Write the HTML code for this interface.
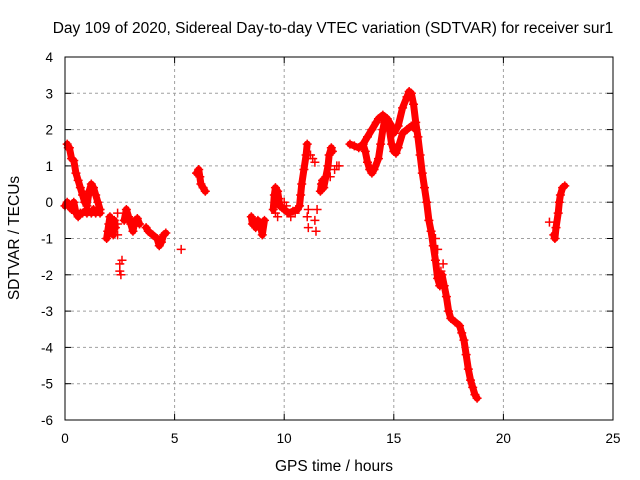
<!DOCTYPE html>
<html><head><meta charset="utf-8"><style>
body{margin:0;background:#fff}
svg{display:block;font-family:"Liberation Sans",sans-serif}
</style></head><body>
<svg id="c" width="640" height="480">
<text x="333" y="33" text-anchor="middle" font-size="15.5">Day 109 of 2020, Sidereal Day-to-day VTEC variation (SDTVAR) for receiver sur1</text>
<text x="334" y="471" text-anchor="middle" font-size="15.5">GPS time / hours</text>
<text transform="translate(19,238) rotate(-90)" text-anchor="middle" font-size="15.5">SDTVAR / TECUs</text>
<g id="grid"></g><g id="marks"></g>
<rect x="65" y="57" width="548" height="363" fill="none" stroke="#000" stroke-width="1"/>
</svg>
<script>
const xTicks=[0,5,10,15,20,25];
const yTicks=[4,3,2,1,0,-1,-2,-3,-4,-5,-6];
const segA1_t=[0.1,0.15,0.2,0.3,0.4,0.5,0.6,0.7,0.8,0.9,1.0,1.1,1.2,1.3,1.4,1.5,1.6];
const segA1_v=[1.6,1.5,1.5,1.2,1.15,0.8,0.6,0.4,0.2,0.0,-0.1,0.3,0.5,0.4,0.2,0.0,-0.2];
const segA2_t=[0.0,0.1,0.2,0.3,0.4,0.5,0.6,0.7,0.8,0.9,1.0,1.1,1.2,1.3,1.4,1.5,1.6];
const segA2_v=[-0.1,0.0,-0.1,-0.2,0.0,-0.3,-0.4,-0.3,-0.3,-0.25,-0.3,-0.25,-0.3,-0.2,-0.3,-0.25,-0.3];
const segB_t=[1.9,1.95,2.0,2.05,2.1,2.15,2.2,2.25,2.3];
const segB_v=[-1.0,-0.8,-0.6,-0.4,-0.5,-0.7,-0.9,-0.5,-0.7];
const segC_t=[2.4,2.4,2.4,2.5,2.5,2.55,2.6];
const segC_v=[-0.3,-0.6,-0.9,-1.7,-1.9,-2.0,-1.6];
const segD_t=[2.7,2.8,2.9,3.0,3.1,3.2,3.3,3.4];
const segD_v=[-0.5,-0.2,-0.4,-0.6,-0.8,-0.5,-0.45,-0.6];
const segE_t=[3.7,3.8,4.0,4.2,4.3,4.4,4.5,4.6];
const segE_v=[-0.7,-0.8,-0.9,-1.0,-1.2,-1.1,-0.9,-0.85];
const segF_t=[5.3];
const segF_v=[-1.3];
const segG_t=[6.0,6.1,6.15,6.2,6.3,6.4];
const segG_v=[0.8,0.9,0.7,0.5,0.4,0.3];
const segH_t=[8.5,8.55,8.6,8.7,8.8,8.9,9.0,9.1];
const segH_v=[-0.4,-0.6,-0.5,-0.7,-0.5,-0.6,-0.9,-0.5];
const segI_t=[9.5,9.55,9.6,9.7,9.75,9.8,9.9,10.0,10.2,10.4,10.6,10.7,10.75,10.8,10.9,11.0,11.05];
const segI_v=[-0.2,0.2,0.4,0.3,0.1,-0.1,-0.15,-0.2,-0.3,-0.25,-0.2,-0.1,0.2,0.5,0.9,1.3,1.6];
const segI2_t=[9.6,9.7,10.0,10.1,10.3,10.5];
const segI2_v=[-0.3,-0.4,0.0,-0.1,-0.4,-0.3];
const segJ_t=[11.05,11.1,11.1,11.4,11.45,11.5,11.2,11.3,11.4];
const segJ_v=[-0.4,-0.2,-0.7,-0.5,-0.8,-0.2,1.3,1.2,1.1];
const segK_t=[11.65,11.7,11.75,11.8,11.9,12.0,12.05,12.15,12.2];
const segK_v=[0.3,0.5,0.6,0.4,0.7,1.0,1.3,1.5,1.4];
const segK2_t=[11.8,12.1,12.3,12.4,12.5];
const segK2_v=[0.4,0.7,0.9,1.0,1.0];
const segL_t=[13.0,13.2,13.4,13.6,13.8,14.0,14.2,14.3,14.5,14.7,14.9,15.0,15.2,15.4,15.6,15.7,15.8,15.9,16.0,16.1,16.2,16.3,16.4,16.5,16.6,16.7,16.8,16.9,17.0,17.1];
const segL_v=[1.6,1.55,1.5,1.6,1.8,2.0,2.2,2.3,2.4,2.3,2.1,1.9,2.1,2.6,2.9,3.05,3.0,2.7,2.2,1.8,1.3,0.8,0.4,0.0,-0.5,-0.8,-1.2,-1.6,-2.1,-2.3];
const segM_t=[13.6,13.7,13.8,13.9,14.0,14.1,14.3,14.4,14.5,14.6,14.8,14.9,15.0,15.1,15.2,15.4,15.6,15.8,16.0];
const segM_v=[1.6,1.4,1.1,0.9,0.8,0.9,1.2,1.6,2.0,2.3,2.0,1.6,1.4,1.35,1.5,1.9,2.0,2.1,2.0];
const segN_t=[17.1,17.2,17.3,17.4,17.5,17.6,17.8,18.0,18.1,18.2,18.3,18.4,18.5,18.6,18.7,18.8];
const segN_v=[-2.3,-2.0,-2.3,-2.6,-3.0,-3.2,-3.3,-3.4,-3.6,-3.8,-4.2,-4.6,-4.9,-5.1,-5.3,-5.4];
const segN2_t=[16.9,17.0,17.15,17.25];
const segN2_v=[-1.0,-1.3,-1.9,-1.7];
const segO_t=[22.3,22.35,22.4,22.5,22.55,22.6,22.7,22.8];
const segO_v=[-0.9,-1.0,-0.7,-0.3,0.0,0.2,0.4,0.45];
const segP_t=[22.1];
const segP_v=[-0.55];
const segments=[[segA1_t,segA1_v],[segA2_t,segA2_v],[segB_t,segB_v],[segC_t,segC_v],[segD_t,segD_v],[segE_t,segE_v],[segF_t,segF_v],[segG_t,segG_v],[segH_t,segH_v],[segI_t,segI_v],[segI2_t,segI2_v],[segJ_t,segJ_v],[segK_t,segK_v],[segK2_t,segK2_v],[segL_t,segL_v],[segM_t,segM_v],[segN_t,segN_v],[segN2_t,segN2_v],[segO_t,segO_v],[segP_t,segP_v]];
const lineSegs=[0,1,2,4,5,7,8,9,12,14,15,16,18];
const X0=65,X1=613,Y0=57,Y1=420;
const sx=t=>X0+(t-0)/25*(X1-X0);
const sy=v=>Y0+(4-v)/10*(Y1-Y0);
const NS="http://www.w3.org/2000/svg";
const grid=document.getElementById('grid'),marks=document.getElementById('marks');
function mk(tag,attrs,parent){const e=document.createElementNS(NS,tag);for(const k in attrs)e.setAttribute(k,attrs[k]);parent.appendChild(e);return e;}
xTicks.forEach(t=>{const x=sx(t);
 if(t>0&&t<25){const g=mk('line',{x1:x,x2:x,y1:Y0,y2:Y1,stroke:'#a0a0a0','stroke-dasharray':'3,3'},grid);
 
 }
 mk('line',{x1:x,x2:x,y1:Y1,y2:Y1-6,stroke:'#000'},grid);mk('line',{x1:x,x2:x,y1:Y0,y2:Y0+6,stroke:'#000'},grid);
 const l=mk('text',{x:x,y:443,'text-anchor':'middle','font-size':'13.5'},grid);l.textContent=t;
 
 });
yTicks.forEach(v=>{const y=sy(v);
 if(v<4&&v>-6){const g=mk('line',{x1:X0,x2:X1,y1:y,y2:y,stroke:'#a0a0a0','stroke-dasharray':'3,3'},grid);
 
 }
 mk('line',{x1:X0,x2:X0+6,y1:y,y2:y,stroke:'#000'},grid);mk('line',{x1:X1,x2:X1-6,y1:y,y2:y,stroke:'#000'},grid);
 const l=mk('text',{x:53,y:y+5,'text-anchor':'end','font-size':'13.5'},grid);l.textContent=v;
 
 });
segments.forEach((s,i)=>{const [T,V]=s;
 if(lineSegs.includes(i)&&T.length>1){const p=mk('polyline',{points:T.map((t,j)=>sx(t)+','+sy(V[j])).join(' '),fill:'none',stroke:'#f00','stroke-width':'7','stroke-linejoin':'round','stroke-linecap':'round'},marks);
 
 }
 T.forEach((t,j)=>{const x=sx(t),y=sy(V[j]);
 const m=mk('path',{d:`M${x-4.5},${y}h9M${x},${y-4.5}v9`,stroke:'#f00','stroke-width':'1.5'},marks);
 
 });});
</script>
</body></html>
